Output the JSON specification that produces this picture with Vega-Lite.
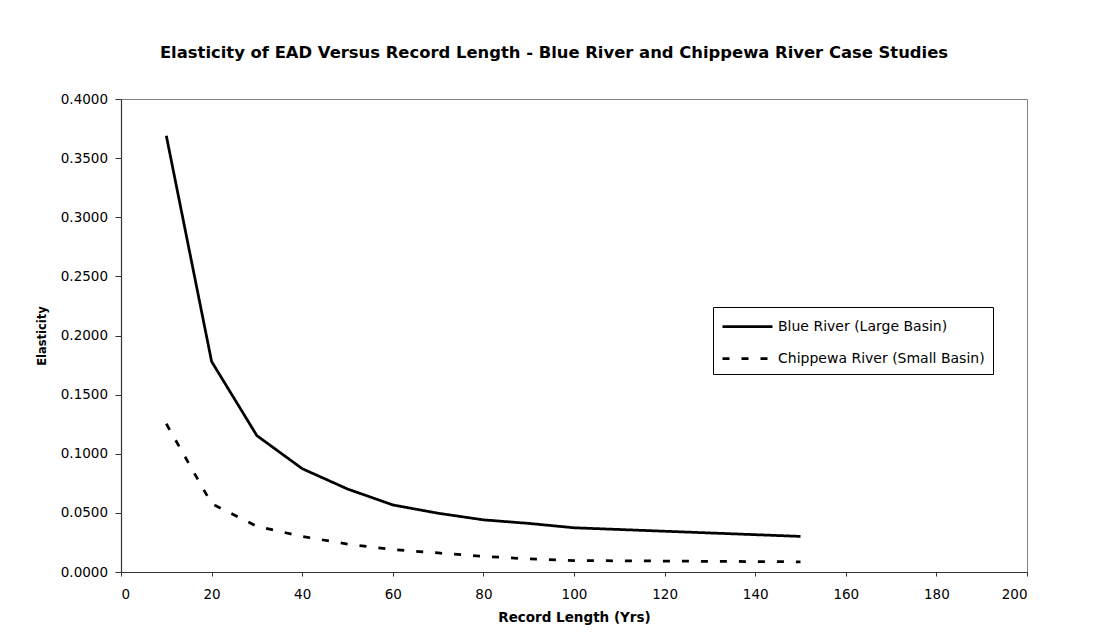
{
  "$schema": "https://vega.github.io/schema/vega-lite/v6.json",
  "width": 906,
  "height": 473,
  "autosize": {"type": "none"},
  "padding": {"left": 121, "top": 99, "right": 67, "bottom": 68},
  "background": "white",
  "title": {
    "text": "Elasticity of EAD Versus Record Length - Blue River and Chippewa River Case Studies",
    "font": "DejaVu Sans",
    "fontSize": 16.4,
    "fontWeight": "bold",
    "color": "black",
    "anchor": "middle",
    "frame": "group",
    "dx": -20,
    "offset": 31
  },
  "data": {
    "values": [
      {"series": "Blue River (Large Basin)", "length": 10, "elasticity": 0.369},
      {"series": "Blue River (Large Basin)", "length": 20, "elasticity": 0.178},
      {"series": "Blue River (Large Basin)", "length": 30, "elasticity": 0.1153},
      {"series": "Blue River (Large Basin)", "length": 40, "elasticity": 0.0874},
      {"series": "Blue River (Large Basin)", "length": 50, "elasticity": 0.0702},
      {"series": "Blue River (Large Basin)", "length": 60, "elasticity": 0.0567},
      {"series": "Blue River (Large Basin)", "length": 70, "elasticity": 0.0497},
      {"series": "Blue River (Large Basin)", "length": 80, "elasticity": 0.0441},
      {"series": "Blue River (Large Basin)", "length": 90, "elasticity": 0.0411},
      {"series": "Blue River (Large Basin)", "length": 100, "elasticity": 0.0374},
      {"series": "Blue River (Large Basin)", "length": 150, "elasticity": 0.0301},
      {"series": "Chippewa River (Small Basin)", "length": 10, "elasticity": 0.1254},
      {"series": "Chippewa River (Small Basin)", "length": 20, "elasticity": 0.0578},
      {"series": "Chippewa River (Small Basin)", "length": 30, "elasticity": 0.0386},
      {"series": "Chippewa River (Small Basin)", "length": 40, "elasticity": 0.0301},
      {"series": "Chippewa River (Small Basin)", "length": 50, "elasticity": 0.0236},
      {"series": "Chippewa River (Small Basin)", "length": 60, "elasticity": 0.0189},
      {"series": "Chippewa River (Small Basin)", "length": 70, "elasticity": 0.0161},
      {"series": "Chippewa River (Small Basin)", "length": 80, "elasticity": 0.0133},
      {"series": "Chippewa River (Small Basin)", "length": 90, "elasticity": 0.0111},
      {"series": "Chippewa River (Small Basin)", "length": 100, "elasticity": 0.0097},
      {"series": "Chippewa River (Small Basin)", "length": 150, "elasticity": 0.0086}
    ]
  },
  "mark": {"type": "line", "color": "black", "strokeWidth": 2.75},
  "encoding": {
    "x": {
      "field": "length",
      "type": "quantitative",
      "scale": {"domain": [0, 200], "nice": false},
      "axis": {
        "values": [0, 20, 40, 60, 80, 100, 120, 140, 160, 180, 200],
        "title": "Record Length (Yrs)",
        "grid": false,
        "tickSize": 4,
        "labelPadding": 11,
        "titlePadding": 10,
        "titleFontSize": 13.5
      }
    },
    "y": {
      "field": "elasticity",
      "type": "quantitative",
      "scale": {"domain": [0, 0.4], "nice": false},
      "axis": {
        "values": [0, 0.05, 0.1, 0.15, 0.2, 0.25, 0.3, 0.35, 0.4],
        "format": ".4f",
        "title": "Elasticity",
        "grid": false,
        "tickSize": 6,
        "labelPadding": 7.5,
        "titlePadding": 13,
        "titleFontSize": 11.5
      }
    },
    "strokeDash": {
      "field": "series",
      "type": "nominal",
      "scale": {
        "domain": ["Blue River (Large Basin)", "Chippewa River (Small Basin)"],
        "range": [[1, 0], [7, 12]]
      },
      "legend": {
        "orient": "none",
        "legendX": 592,
        "legendY": 208,
        "title": null,
        "symbolType": "M-1,0H4",
        "symbolSize": 400,
        "symbolStrokeWidth": 2.75,
        "symbolStrokeColor": "black",
        "labelFont": "DejaVu Sans",
        "labelFontSize": 14,
        "labelColor": "black",
        "labelOffset": 34,
        "labelLimit": 400,
        "padding": 8,
        "rowPadding": 13,
        "strokeColor": "black",
        "fillColor": "white",
        "cornerRadius": 0
      }
    }
  },
  "config": {
    "view": {"stroke": "#808080", "strokeWidth": 1},
    "axis": {
      "domainColor": "#333333",
      "domainWidth": 1.2,
      "tickColor": "#333333",
      "tickWidth": 1,
      "labelFont": "DejaVu Sans",
      "labelFontSize": 13.5,
      "labelColor": "black",
      "titleFont": "DejaVu Sans",
      "titleFontWeight": "bold",
      "titleColor": "black"
    }
  }
}
